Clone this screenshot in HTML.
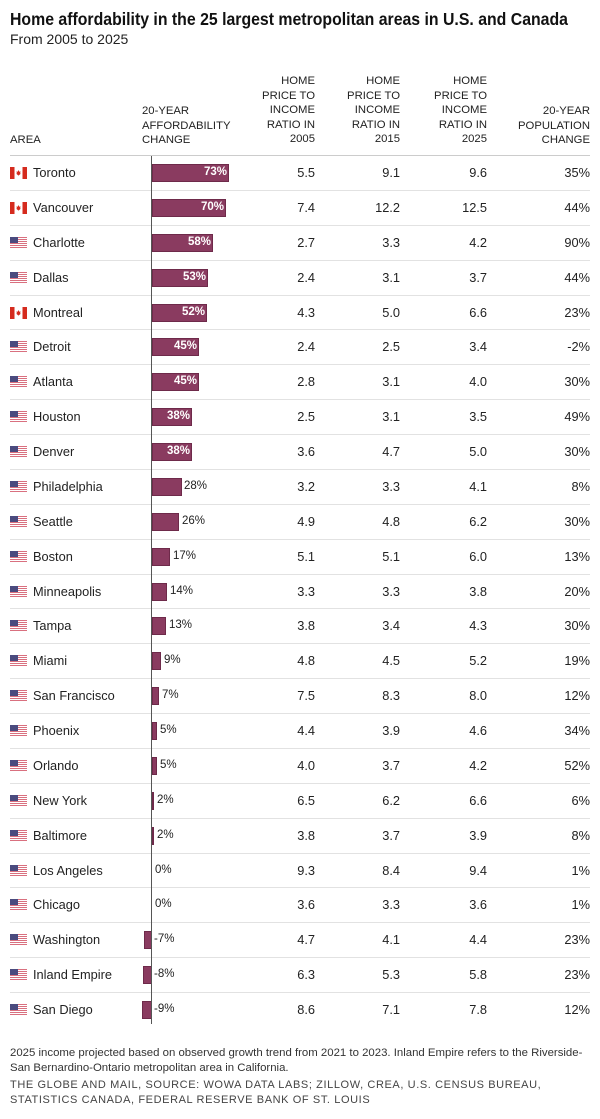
<!DOCTYPE html>
<html><head><meta charset="utf-8"><style>
body{margin:0;width:600px;height:1119px;background:#fff;font-family:"Liberation Sans",sans-serif;color:#222;position:relative;overflow:hidden}
.t{position:absolute;left:10px;top:9px;font-size:17.5px;font-weight:bold;color:#111;white-space:nowrap;transform:scaleX(0.905);transform-origin:left top}
.s{position:absolute;left:10px;top:31px;font-size:14px;color:#222}
.h{position:absolute;font-size:11.3px;line-height:14.6px;color:#222}
.hr{text-align:right}
#rows{position:absolute;left:10px;top:156px;width:580px}
.r{position:relative;height:33.875px;border-bottom:1px solid #e2e2e2;font-size:12.8px}
.r span{position:absolute;top:9px}
.n{left:23px}
.v{text-align:right;width:40px}
.a{right:275px}.b{right:190px}.c{right:103px}.p{right:0}
.f{position:absolute;left:0;top:11px;width:17px;height:12px}
.bar{position:absolute;top:8px;height:18px;background:#8a3b60;box-sizing:border-box;border:1px solid #6e2a4a}
.bl{font-size:11.5px;top:10px!important}
.in{color:#fff;font-weight:bold}
.ax{position:absolute;left:151px;top:156px;width:1px;height:868px;background:#555}
.hl{position:absolute;left:10px;top:155px;width:580px;height:1px;background:#ccc}
.ft{position:absolute;left:10px;top:1046px;font-size:11.4px;line-height:15px;color:#333}
.src{position:absolute;left:10px;top:1078px;font-size:11px;line-height:15px;letter-spacing:0.6px;color:#444}
</style></head><body>
<div class="t">Home affordability in the 25 largest metropolitan areas in U.S. and Canada</div>
<div class="s">From 2005 to 2025</div>
<div class="h" style="left:10px;top:133px">AREA</div>
<div class="h" style="left:142px;top:104px">20-YEAR<br>AFFORDABILITY<br>CHANGE</div>
<div class="h hr" style="right:285px;top:74px">HOME<br>PRICE TO<br>INCOME<br>RATIO IN<br>2005</div>
<div class="h hr" style="right:200px;top:74px">HOME<br>PRICE TO<br>INCOME<br>RATIO IN<br>2015</div>
<div class="h hr" style="right:113px;top:74px">HOME<br>PRICE TO<br>INCOME<br>RATIO IN<br>2025</div>
<div class="h hr" style="right:10px;top:104px">20-YEAR<br>POPULATION<br>CHANGE</div>
<div class="hl"></div>
<svg width="0" height="0" style="position:absolute"><defs>
<symbol id="ca" viewBox="0 0 17 12"><rect width="17" height="12" fill="#fff"/><rect width="4.5" height="12" fill="#d52b1e"/><rect x="12.5" width="4.5" height="12" fill="#d52b1e"/><path d="M8.5 3 L9.3 4.8 L10.6 4.4 L10 6.5 L11 6.5 L8.5 8.6 L6 6.5 L7 6.5 L6.4 4.4 L7.7 4.8 Z" fill="#d52b1e"/></symbol>
<symbol id="us" viewBox="0 0 17 12"><rect width="17" height="12" fill="#fff"/><g fill="#d9707f"><rect y="0" width="17" height="1"/><rect y="2" width="17" height="1"/><rect y="4" width="17" height="1"/><rect y="6" width="17" height="1"/><rect y="8" width="17" height="1"/><rect y="10" width="17" height="1"/></g><rect width="8" height="6" fill="#4a4a7e"/></symbol>
</defs></svg>
<div id="rows">
<div class="r"><svg class="f"><use href="#ca"/></svg><span class="n">Toronto</span><div class="bar" style="left:142px;width:77px"></div><span class="bl in" style="left:194px">73%</span><span class="v a">5.5</span><span class="v b">9.1</span><span class="v c">9.6</span><span class="v p">35%</span></div>
<div class="r"><svg class="f"><use href="#ca"/></svg><span class="n">Vancouver</span><div class="bar" style="left:142px;width:74px"></div><span class="bl in" style="left:191px">70%</span><span class="v a">7.4</span><span class="v b">12.2</span><span class="v c">12.5</span><span class="v p">44%</span></div>
<div class="r"><svg class="f"><use href="#us"/></svg><span class="n">Charlotte</span><div class="bar" style="left:142px;width:61px"></div><span class="bl in" style="left:178px">58%</span><span class="v a">2.7</span><span class="v b">3.3</span><span class="v c">4.2</span><span class="v p">90%</span></div>
<div class="r"><svg class="f"><use href="#us"/></svg><span class="n">Dallas</span><div class="bar" style="left:142px;width:56px"></div><span class="bl in" style="left:173px">53%</span><span class="v a">2.4</span><span class="v b">3.1</span><span class="v c">3.7</span><span class="v p">44%</span></div>
<div class="r"><svg class="f"><use href="#ca"/></svg><span class="n">Montreal</span><div class="bar" style="left:142px;width:55px"></div><span class="bl in" style="left:172px">52%</span><span class="v a">4.3</span><span class="v b">5.0</span><span class="v c">6.6</span><span class="v p">23%</span></div>
<div class="r"><svg class="f"><use href="#us"/></svg><span class="n">Detroit</span><div class="bar" style="left:142px;width:47px"></div><span class="bl in" style="left:164px">45%</span><span class="v a">2.4</span><span class="v b">2.5</span><span class="v c">3.4</span><span class="v p">-2%</span></div>
<div class="r"><svg class="f"><use href="#us"/></svg><span class="n">Atlanta</span><div class="bar" style="left:142px;width:47px"></div><span class="bl in" style="left:164px">45%</span><span class="v a">2.8</span><span class="v b">3.1</span><span class="v c">4.0</span><span class="v p">30%</span></div>
<div class="r"><svg class="f"><use href="#us"/></svg><span class="n">Houston</span><div class="bar" style="left:142px;width:40px"></div><span class="bl in" style="left:157px">38%</span><span class="v a">2.5</span><span class="v b">3.1</span><span class="v c">3.5</span><span class="v p">49%</span></div>
<div class="r"><svg class="f"><use href="#us"/></svg><span class="n">Denver</span><div class="bar" style="left:142px;width:40px"></div><span class="bl in" style="left:157px">38%</span><span class="v a">3.6</span><span class="v b">4.7</span><span class="v c">5.0</span><span class="v p">30%</span></div>
<div class="r"><svg class="f"><use href="#us"/></svg><span class="n">Philadelphia</span><div class="bar" style="left:142px;width:30px"></div><span class="bl" style="left:174px">28%</span><span class="v a">3.2</span><span class="v b">3.3</span><span class="v c">4.1</span><span class="v p">8%</span></div>
<div class="r"><svg class="f"><use href="#us"/></svg><span class="n">Seattle</span><div class="bar" style="left:142px;width:27px"></div><span class="bl" style="left:172px">26%</span><span class="v a">4.9</span><span class="v b">4.8</span><span class="v c">6.2</span><span class="v p">30%</span></div>
<div class="r"><svg class="f"><use href="#us"/></svg><span class="n">Boston</span><div class="bar" style="left:142px;width:18px"></div><span class="bl" style="left:163px">17%</span><span class="v a">5.1</span><span class="v b">5.1</span><span class="v c">6.0</span><span class="v p">13%</span></div>
<div class="r"><svg class="f"><use href="#us"/></svg><span class="n">Minneapolis</span><div class="bar" style="left:142px;width:15px"></div><span class="bl" style="left:160px">14%</span><span class="v a">3.3</span><span class="v b">3.3</span><span class="v c">3.8</span><span class="v p">20%</span></div>
<div class="r"><svg class="f"><use href="#us"/></svg><span class="n">Tampa</span><div class="bar" style="left:142px;width:14px"></div><span class="bl" style="left:159px">13%</span><span class="v a">3.8</span><span class="v b">3.4</span><span class="v c">4.3</span><span class="v p">30%</span></div>
<div class="r"><svg class="f"><use href="#us"/></svg><span class="n">Miami</span><div class="bar" style="left:142px;width:9px"></div><span class="bl" style="left:154px">9%</span><span class="v a">4.8</span><span class="v b">4.5</span><span class="v c">5.2</span><span class="v p">19%</span></div>
<div class="r"><svg class="f"><use href="#us"/></svg><span class="n">San Francisco</span><div class="bar" style="left:142px;width:7px"></div><span class="bl" style="left:152px">7%</span><span class="v a">7.5</span><span class="v b">8.3</span><span class="v c">8.0</span><span class="v p">12%</span></div>
<div class="r"><svg class="f"><use href="#us"/></svg><span class="n">Phoenix</span><div class="bar" style="left:142px;width:5px"></div><span class="bl" style="left:150px">5%</span><span class="v a">4.4</span><span class="v b">3.9</span><span class="v c">4.6</span><span class="v p">34%</span></div>
<div class="r"><svg class="f"><use href="#us"/></svg><span class="n">Orlando</span><div class="bar" style="left:142px;width:5px"></div><span class="bl" style="left:150px">5%</span><span class="v a">4.0</span><span class="v b">3.7</span><span class="v c">4.2</span><span class="v p">52%</span></div>
<div class="r"><svg class="f"><use href="#us"/></svg><span class="n">New York</span><div class="bar" style="left:142px;width:2px"></div><span class="bl" style="left:147px">2%</span><span class="v a">6.5</span><span class="v b">6.2</span><span class="v c">6.6</span><span class="v p">6%</span></div>
<div class="r"><svg class="f"><use href="#us"/></svg><span class="n">Baltimore</span><div class="bar" style="left:142px;width:2px"></div><span class="bl" style="left:147px">2%</span><span class="v a">3.8</span><span class="v b">3.7</span><span class="v c">3.9</span><span class="v p">8%</span></div>
<div class="r"><svg class="f"><use href="#us"/></svg><span class="n">Los Angeles</span><span class="bl" style="left:145px">0%</span><span class="v a">9.3</span><span class="v b">8.4</span><span class="v c">9.4</span><span class="v p">1%</span></div>
<div class="r"><svg class="f"><use href="#us"/></svg><span class="n">Chicago</span><span class="bl" style="left:145px">0%</span><span class="v a">3.6</span><span class="v b">3.3</span><span class="v c">3.6</span><span class="v p">1%</span></div>
<div class="r"><svg class="f"><use href="#us"/></svg><span class="n">Washington</span><div class="bar" style="left:134px;width:8px"></div><span class="bl" style="left:144px">-7%</span><span class="v a">4.7</span><span class="v b">4.1</span><span class="v c">4.4</span><span class="v p">23%</span></div>
<div class="r"><svg class="f"><use href="#us"/></svg><span class="n">Inland Empire</span><div class="bar" style="left:133px;width:9px"></div><span class="bl" style="left:144px">-8%</span><span class="v a">6.3</span><span class="v b">5.3</span><span class="v c">5.8</span><span class="v p">23%</span></div>
<div class="r" style="border-bottom:none"><svg class="f"><use href="#us"/></svg><span class="n">San Diego</span><div class="bar" style="left:132px;width:10px"></div><span class="bl" style="left:144px">-9%</span><span class="v a">8.6</span><span class="v b">7.1</span><span class="v c">7.8</span><span class="v p">12%</span></div>
</div>
<div class="ax"></div>
<div class="ft">2025 income projected based on observed growth trend from 2021 to 2023. Inland Empire refers to the Riverside-<br>San Bernardino-Ontario metropolitan area in California.</div>
<div class="src">THE GLOBE AND MAIL, SOURCE: WOWA DATA LABS; ZILLOW, CREA, U.S. CENSUS BUREAU,<br>STATISTICS CANADA, FEDERAL RESERVE BANK OF ST. LOUIS</div>
</body></html>
